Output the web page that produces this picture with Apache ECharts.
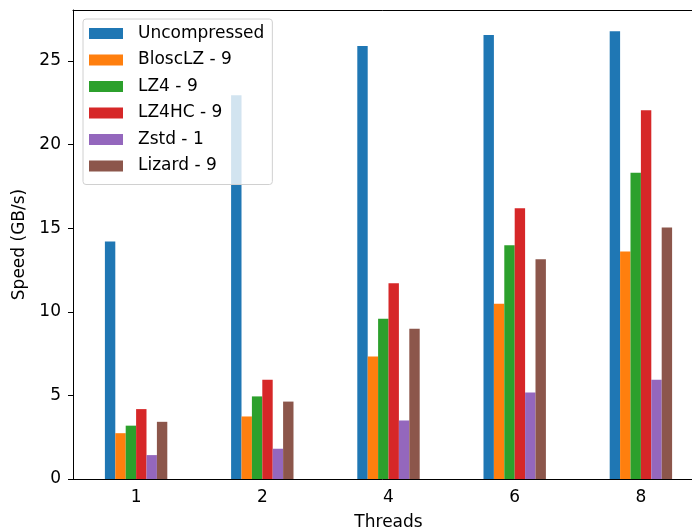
<!DOCTYPE html>
<html>
<head>
<meta charset="utf-8">
<script src="https://cdn.jsdelivr.net/npm/echarts@6/dist/echarts.min.js"></script>
<style>
html,body{margin:0;padding:0;background:#fff;}
#chart{width:692px;height:531px;}
</style>
</head>
<body>
<div id="chart"></div>
<script>
const threads = ['1', '2', '4', '6', '8'];
const seriesNames = ['Uncompressed', 'BloscLZ - 9', 'LZ4 - 9', 'LZ4HC - 9', 'Zstd - 1', 'Lizard - 9'];
const uncompressed = [14.2, 22.95, 25.9, 26.55, 26.78];
const blosclz = [2.74, 3.74, 7.33, 10.48, 13.6];
const lz4 = [3.19, 4.94, 9.58, 13.98, 18.32];
const lz4hc = [4.18, 5.93, 11.7, 16.2, 22.05];
const zstd = [1.43, 1.81, 3.5, 5.17, 5.93];
const lizard = [3.42, 4.63, 8.98, 13.15, 15.04];
const yTicks = [0, 5, 10, 15, 20, 25];

const colors = ['#1f77b4', '#ff7f0e', '#2ca02c', '#d62728', '#9467bd', '#8c564b'];
const allData = [uncompressed, blosclz, lz4, lz4hc, zstd, lizard];
const font = 'DejaVu Sans';

const chart = echarts.init(document.getElementById('chart'), null, {renderer: 'canvas'});
chart.setOption({
  animation: false,
  color: colors,
  textStyle: {fontFamily: font},
  grid: {left: 73, width: 631, top: 10, height: 469, outerBoundsMode: 'none', containLabel: false, show: false},
  legend: {
    orient: 'vertical',
    left: 83, top: 19,
    icon: 'rect',
    itemWidth: 34, itemHeight: 11,
    itemGap: 9.5,
    padding: [6, 8, 10, 6],
    backgroundColor: 'rgba(255,255,255,0.8)',
    borderColor: '#d0d0d0', borderWidth: 1, borderRadius: 3,
    textStyle: {fontFamily: font, fontSize: 17, color: '#000', lineHeight: 17, padding: [0, 0, 0, 10]},
    data: seriesNames
  },
  xAxis: [{
    type: 'category',
    data: threads,
    name: 'Threads',
    nameLocation: 'middle',
    nameGap: 35,
    nameTextStyle: {fontFamily: font, fontSize: 17, color: '#000'},
    axisLine: {lineStyle: {color: '#000', width: 1}},
    axisTick: {alignWithLabel: true, length: 5, lineStyle: {color: '#000'}},
    axisLabel: {fontFamily: font, fontSize: 17, color: '#000', margin: 10},
    splitLine: {show: false}
  }, {
    type: 'category',
    data: threads,
    position: 'top',
    axisLine: {show: true, lineStyle: {color: '#000', width: 1}},
    axisTick: {show: false},
    axisLabel: {show: false},
    splitLine: {show: false}
  }],
  yAxis: {
    type: 'value',
    min: 0, max: 28.05, interval: 5,
    name: 'Speed (GB/s)',
    nameLocation: 'middle',
    nameGap: 43,
    nameTextStyle: {fontFamily: font, fontSize: 17, color: '#000'},
    axisLine: {show: true, lineStyle: {color: '#000', width: 1}},
    axisTick: {show: true, length: 5, lineStyle: {color: '#000'}},
    axisLabel: {
      fontFamily: font, fontSize: 17, color: '#000', margin: 12, showMaxLabel: false,
      formatter: function (v) { return yTicks.indexOf(v) >= 0 ? String(v) : ''; }
    },
    splitLine: {show: false}
  },
  series: seriesNames.map(function (n, i) {
    return {name: n, type: 'bar', data: allData[i], barWidth: 10.4, barGap: '0%'};
  })
});
</script>
</body>
</html>
